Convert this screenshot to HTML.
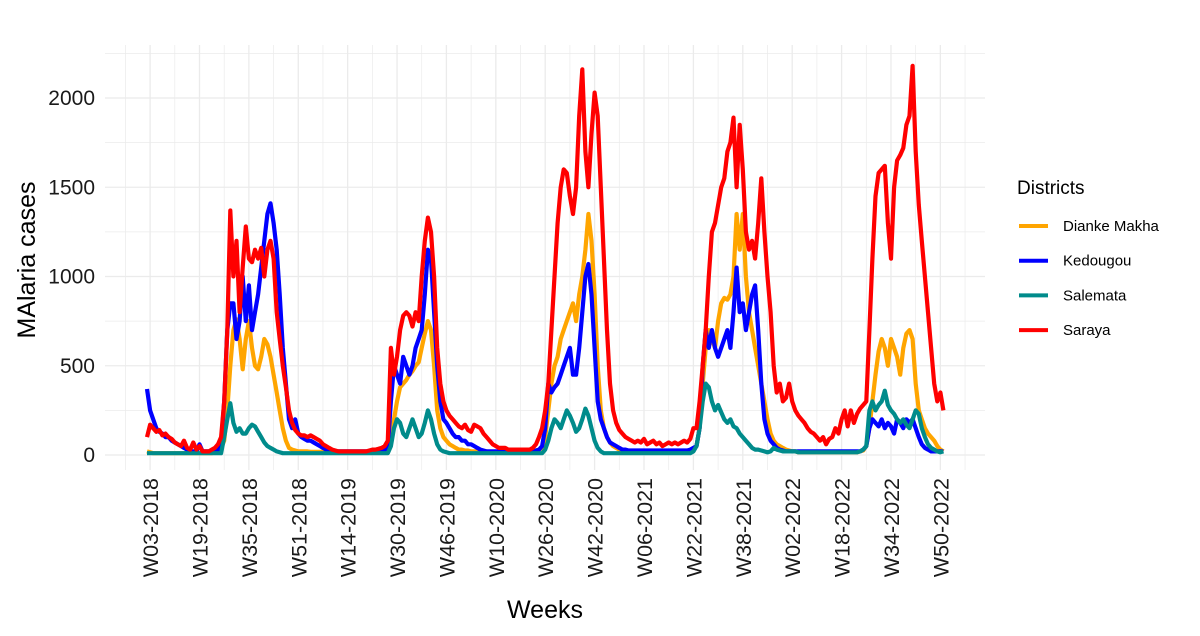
<!DOCTYPE html>
<html><head><meta charset="utf-8"><style>
body{margin:0;background:#fff;font-family:"Liberation Sans",Arial,sans-serif}
svg{display:block}
</style></head><body>
<svg id="chart" width="1200" height="636" viewBox="0 0 1200 636" xmlns="http://www.w3.org/2000/svg">
<rect width="1200" height="636" fill="#fff"/>
<g id="grid"></g>
<g id="yaxis"></g>
<g id="xaxis"></g>
<g id="series"></g>
<text x="545" y="618" font-size="25" text-anchor="middle" fill="#000">Weeks</text>
<text transform="translate(35,260) rotate(-90)" font-size="25" text-anchor="middle" fill="#000">MAlaria cases</text>
<g>
<text x="1017" y="194" font-size="19" fill="#000">Districts</text>
<g id="legend-entries"></g>
</g>
</svg>
<script>
const tickLabels=["W03-2018","W19-2018","W35-2018","W51-2018","W14-2019","W30-2019","W46-2019","W10-2020","W26-2020","W42-2020","W06-2021","W22-2021","W38-2021","W02-2022","W18-2022","W34-2022","W50-2022"];
const yTicks=[0,500,1000,1500,2000];
const seriesNames=["Dianke Makha","Kedougou","Salemata","Saraya"];
const dianke=[20,15,10,10,10,10,10,10,10,10,10,10,10,10,10,10,10,10,10,10,10,10,15,20,40,
80,250,500,700,760,650,480,650,750,600,500,480,550,650,620,550,450,350,250,150,80,40,30,25,20,20,
20,20,18,18,18,18,18,18,18,18,18,18,18,18,18,18,18,18,18,18,18,18,18,18,18,20,25,30,
100,200,300,380,400,420,450,470,500,520,600,680,750,700,500,250,150,100,80,60,50,40,
30,30,25,25,20,20,20,20,20,20,15,15,15,15,15,15,15,15,15,15,15,15,15,15,20,25,30,40,
100,250,400,500,550,650,700,750,800,850,750,900,1000,1150,1350,1200,900,500,250,150,100,70,50,40,30,30,25,
20,20,20,20,20,20,20,20,20,20,20,20,20,20,20,20,20,20,20,20,25,30,
50,150,400,600,700,650,600,750,850,880,870,900,1000,1350,1150,1350,1000,800,700,600,500,400,300,200,120,80,60,50,40,30,25,20,20,
15,15,15,15,15,15,15,15,15,15,15,15,15,15,15,15,15,15,15,15,20,25,
50,150,300,450,580,650,600,500,650,600,550,450,600,680,700,650,400,250,200,150,120,100,80,50,30,20];
const kedougou=[370,250,200,150,130,120,100,100,80,70,60,50,40,30,20,20,20,60,20,20,20,20,20,30,60,
300,700,850,850,650,750,1000,750,950,700,800,900,1050,1200,1350,1410,1300,1150,900,600,400,200,150,200,120,100,
90,80,80,70,60,50,40,30,25,20,20,20,20,20,20,20,20,20,20,20,20,20,20,20,20,25,30,40,
300,500,450,400,550,500,450,500,600,650,700,900,1150,1100,800,500,300,200,180,150,120,100,
100,80,80,60,60,50,40,30,25,20,20,20,20,20,20,20,20,20,20,20,20,20,20,20,20,25,30,50,
150,400,350,380,400,450,500,550,600,450,450,600,800,1000,1070,900,600,300,200,150,100,70,60,50,40,30,30,
25,25,25,25,25,25,25,25,25,25,25,25,25,25,25,25,25,25,25,25,30,40,
50,150,500,700,600,700,600,550,600,650,700,600,800,1050,800,850,700,800,900,950,700,400,200,120,80,60,40,30,25,20,20,20,20,
20,20,20,20,20,20,20,20,20,20,20,20,20,20,20,20,20,20,20,20,20,30,
50,150,200,180,160,200,150,180,160,120,200,180,150,200,180,200,150,100,60,40,30,20,20,20,20,20];
const salemata=[10,10,10,10,10,10,10,10,10,10,10,10,10,10,10,10,10,10,10,10,10,10,10,10,10,
100,200,290,180,130,150,120,120,150,170,160,130,100,70,50,40,30,20,15,10,10,10,10,10,10,10,
10,10,10,10,10,10,10,10,10,10,10,10,10,10,10,10,10,10,10,10,10,10,10,10,10,10,10,10,
50,150,200,180,120,100,150,200,150,100,120,180,250,200,120,60,30,20,15,10,10,10,
10,10,10,10,10,10,10,10,10,10,10,10,10,10,10,10,10,10,10,10,10,10,10,10,10,10,10,10,
30,80,150,200,180,150,200,250,220,180,130,150,200,260,220,150,80,40,20,10,10,10,10,10,10,10,10,
10,10,10,10,10,10,10,10,10,10,10,10,10,10,10,10,10,10,10,10,10,20,
50,150,300,400,380,300,250,280,240,200,180,200,160,150,120,100,80,60,40,30,30,25,20,15,20,40,30,25,20,20,20,20,20,
15,15,15,15,15,15,15,15,15,15,15,15,15,15,15,15,15,15,15,15,20,30,
50,250,300,250,280,300,360,280,250,230,200,180,200,170,150,200,250,230,150,100,60,40,30,20,15,20];
const saraya=[100,170,150,130,140,110,120,100,90,70,60,50,80,40,30,70,30,50,20,20,20,30,40,60,100,
300,700,1370,1000,1200,800,1050,1280,1100,1080,1150,1100,1160,1000,1150,1200,1100,800,650,500,380,250,180,140,120,110,
110,100,110,100,90,80,60,50,40,30,25,20,20,20,20,20,20,20,20,20,20,25,30,30,35,40,50,80,
600,450,550,700,780,800,780,720,800,750,1000,1200,1330,1250,1000,600,400,300,250,220,200,180,
160,150,170,140,130,170,160,150,120,100,80,60,50,40,40,40,30,30,30,30,30,30,30,30,40,60,100,150,
250,400,700,1000,1300,1500,1600,1580,1450,1350,1500,1900,2160,1700,1500,1800,2030,1900,1500,1100,700,400,250,180,140,120,100,
90,80,70,80,70,90,60,70,80,60,70,50,60,70,60,70,60,70,80,70,90,150,
150,300,500,700,1000,1250,1300,1400,1500,1550,1700,1750,1890,1500,1850,1600,1250,1150,1200,1100,1300,1550,1250,1000,800,500,350,400,300,320,400,300,250,
220,200,180,150,130,120,100,80,100,60,90,100,150,120,200,250,160,250,180,230,260,280,
300,700,1100,1450,1580,1600,1620,1300,1100,1500,1650,1680,1720,1850,1900,2180,1700,1400,1200,1000,800,600,400,300,350,250];
const seriesColors=["#FFA500","#0000FF","#008B8B","#FF0000"];
const seriesData=[dianke,kedougou,salemata,saraya];

const NS="http://www.w3.org/2000/svg";
const X0=147, XSTEP=3.087, Y0=455, YK=0.1785;
function xs(i){return X0+i*XSTEP;}
function ys(v){return Y0-v*YK;}
function mk(tag,attrs,parent){const e=document.createElementNS(NS,tag);for(const k in attrs)e.setAttribute(k,attrs[k]);parent.appendChild(e);return e;}
const grid=document.getElementById('grid');
const PL=105,PR=985,PT=45,PB=470;
for(let v=-250;v<=2250;v+=250){const y=ys(v);if(y<PT||y>PB)continue;
 const l=mk('line',{x1:PL,x2:PR,y1:y,y2:y,stroke:'#ebebeb','stroke-width':v%500===0?1.3:0.7},grid);
 
 }
for(let k=-1;k<=17;k++){
 const xm=xs(1+16*k);
 if(xm>=PL&&xm<=PR){const l=mk('line',{x1:xm,x2:xm,y1:PT,y2:PB,stroke:'#ebebeb','stroke-width':1.3},grid);
 
 }
 const xn=xs(1+16*k+8);
 if(xn>=PL&&xn<=PR){const l=mk('line',{x1:xn,x2:xn,y1:PT,y2:PB,stroke:'#ebebeb','stroke-width':0.7},grid);
 
 }
}
const ya=document.getElementById('yaxis');
yTicks.forEach(v=>{const t=mk('text',{x:95,y:ys(v)+7,'font-size':21,'text-anchor':'end',fill:'#1a1a1a'},ya);t.textContent=v;
 
 });
const xa=document.getElementById('xaxis');
tickLabels.forEach((lab,k)=>{const x=xs(1+16*k);
 const t=mk('text',{transform:`translate(${x+8},478) rotate(-90)`,'font-size':21.5,'text-anchor':'end',fill:'#1a1a1a'},xa);t.textContent=lab;
 
 });
const sg=document.getElementById('series');
seriesData.forEach((arr,s)=>{const d=arr.map((v,i)=>(i?'L':'M')+xs(i).toFixed(1)+','+ys(v).toFixed(1)).join('');
 const p=mk('path',{d:d,fill:'none',stroke:seriesColors[s],'stroke-width':4.2,'stroke-linejoin':'round'},sg);
 
 });
const lg=document.getElementById('legend-entries');
seriesNames.forEach((n,s)=>{const y=226+s*34.7;
 const g=mk('g',{},lg);
 
 
 mk('line',{x1:1019,x2:1048,y1:y,y2:y,stroke:seriesColors[s],'stroke-width':4},g);
 const t=mk('text',{x:1063,y:y+5,'font-size':15,fill:'#000'},g);t.textContent=n;});
</script>
</body></html>
